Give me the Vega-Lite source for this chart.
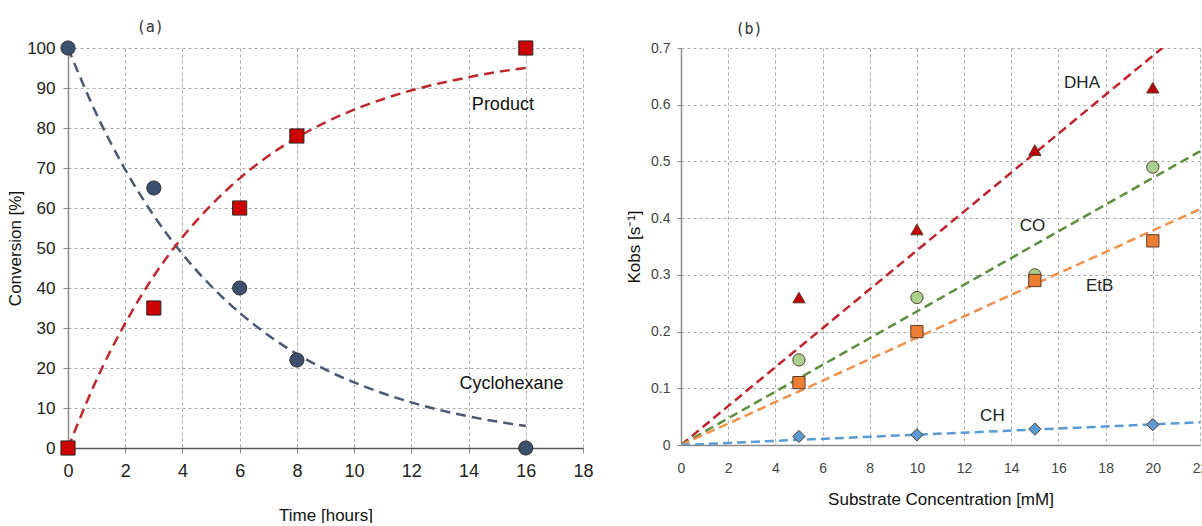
{
  "$schema": "https://vega.github.io/schema/vega-lite/v6.json",
  "background": "white",
  "padding": {"left": 6, "top": 19, "right": 0, "bottom": 0},
  "spacing": 31,
  "resolve": {"scale": {"fill": "independent", "shape": "independent", "color": "independent"}},
  "config": {
    "view": {"stroke": null},
    "font": "Liberation Sans",
    "axis": {
      "grid": true,
      "gridColor": "#aaaaaa",
      "gridDash": [3, 3],
      "gridWidth": 1,
      "domainColor": "#8a8a8a",
      "domainWidth": 1.5,
      "tickColor": "#8a8a8a",
      "tickSize": 5,
      "labelFlush": false,
      "labelOverlap": false,
      "labelFont": "Liberation Sans",
      "titleFont": "Liberation Sans",
      "titleFontWeight": "normal",
      "labelColor": "#222",
      "titleColor": "#111"
    }
  },
  "datasets": {
    "fitA": [
      {"t": 0, "v": 100, "s": "Cyclohexane"}, {"t": 1, "v": 83.4, "s": "Cyclohexane"}, {"t": 2, "v": 69.6, "s": "Cyclohexane"},
      {"t": 3, "v": 58.1, "s": "Cyclohexane"}, {"t": 4, "v": 48.5, "s": "Cyclohexane"}, {"t": 5, "v": 40.5, "s": "Cyclohexane"},
      {"t": 6, "v": 33.8, "s": "Cyclohexane"}, {"t": 7, "v": 28.2, "s": "Cyclohexane"}, {"t": 8, "v": 23.5, "s": "Cyclohexane"},
      {"t": 9, "v": 19.6, "s": "Cyclohexane"}, {"t": 10, "v": 16.4, "s": "Cyclohexane"}, {"t": 11, "v": 13.7, "s": "Cyclohexane"},
      {"t": 12, "v": 11.4, "s": "Cyclohexane"}, {"t": 13, "v": 9.5, "s": "Cyclohexane"}, {"t": 14, "v": 7.9, "s": "Cyclohexane"},
      {"t": 15, "v": 6.6, "s": "Cyclohexane"}, {"t": 16, "v": 5.5, "s": "Cyclohexane"},
      {"t": 0, "v": 0, "s": "Product"}, {"t": 1, "v": 17.1, "s": "Product"}, {"t": 2, "v": 31.2, "s": "Product"},
      {"t": 3, "v": 43.0, "s": "Product"}, {"t": 4, "v": 52.7, "s": "Product"}, {"t": 5, "v": 60.7, "s": "Product"},
      {"t": 6, "v": 67.4, "s": "Product"}, {"t": 7, "v": 73.0, "s": "Product"}, {"t": 8, "v": 77.6, "s": "Product"},
      {"t": 9, "v": 81.4, "s": "Product"}, {"t": 10, "v": 84.6, "s": "Product"}, {"t": 11, "v": 87.2, "s": "Product"},
      {"t": 12, "v": 89.4, "s": "Product"}, {"t": 13, "v": 91.2, "s": "Product"}, {"t": 14, "v": 92.7, "s": "Product"},
      {"t": 15, "v": 94.0, "s": "Product"}, {"t": 16, "v": 95.0, "s": "Product"}
    ],
    "ptsA": [
      {"t": 0, "v": 100, "s": "Cyclohexane"}, {"t": 3, "v": 65, "s": "Cyclohexane"}, {"t": 6, "v": 40, "s": "Cyclohexane"},
      {"t": 8, "v": 22, "s": "Cyclohexane"}, {"t": 16, "v": 0, "s": "Cyclohexane"},
      {"t": 0, "v": 0, "s": "Product"}, {"t": 3, "v": 35, "s": "Product"}, {"t": 6, "v": 60, "s": "Product"},
      {"t": 8, "v": 78, "s": "Product"}, {"t": 16, "v": 100, "s": "Product"}
    ],
    "lblA": [
      {"t": 15.2, "v": 85.8, "label": "Product"},
      {"t": 15.5, "v": 16, "label": "Cyclohexane"}
    ],
    "fitB": [
      {"c": 0, "k": 0, "s": "DHA"}, {"c": 20.4, "k": 0.7, "s": "DHA"},
      {"c": 0, "k": 0, "s": "CO"}, {"c": 22, "k": 0.518, "s": "CO"},
      {"c": 0, "k": 0, "s": "EtB"}, {"c": 22, "k": 0.416, "s": "EtB"},
      {"c": 0, "k": 0, "s": "CH"}, {"c": 22, "k": 0.04, "s": "CH"}
    ],
    "ptsB": [
      {"c": 5, "k": 0.26, "s": "DHA"}, {"c": 10, "k": 0.38, "s": "DHA"}, {"c": 15, "k": 0.52, "s": "DHA"}, {"c": 20, "k": 0.63, "s": "DHA"},
      {"c": 5, "k": 0.15, "s": "CO"}, {"c": 10, "k": 0.26, "s": "CO"}, {"c": 15, "k": 0.30, "s": "CO"}, {"c": 20, "k": 0.49, "s": "CO"},
      {"c": 5, "k": 0.11, "s": "EtB"}, {"c": 10, "k": 0.20, "s": "EtB"}, {"c": 15, "k": 0.29, "s": "EtB"}, {"c": 20, "k": 0.36, "s": "EtB"},
      {"c": 5, "k": 0.015, "s": "CH"}, {"c": 10, "k": 0.018, "s": "CH"}, {"c": 15, "k": 0.028, "s": "CH"}, {"c": 20, "k": 0.036, "s": "CH"}
    ],
    "lblB": [
      {"c": 17.0, "k": 0.638, "label": "DHA"},
      {"c": 14.9, "k": 0.386, "label": "CO"},
      {"c": 17.75, "k": 0.28, "label": "EtB"},
      {"c": 13.2, "k": 0.051, "label": "CH"}
    ]
  },
  "hconcat": [
    {
      "width": 515,
      "height": 400,
      "title": {"text": "(a)", "anchor": "start", "dx": 130, "offset": 4, "font": "DejaVu Sans Mono", "fontSize": 15, "fontWeight": "normal", "color": "#333"},
      "encoding": {
        "x": {"field": "t", "type": "quantitative", "scale": {"domain": [0, 18], "nice": false},
              "axis": {"values": [0, 2, 4, 6, 8, 10, 12, 14, 16, 18], "title": "Time [hours]", "labelFontSize": 18, "titleFontSize": 17, "labelPadding": 9, "titlePadding": 27, "domainColor": "#555", "labelOverlap": false, "labelFlush": false}},
        "y": {"field": "v", "type": "quantitative", "scale": {"domain": [0, 100], "nice": false},
              "axis": {"values": [0, 10, 20, 30, 40, 50, 60, 70, 80, 90, 100], "tickCount": 11, "title": "Conversion [%]", "labelFontSize": 17, "titleFontSize": 17, "labelPadding": 8, "titlePadding": 2, "labelOverlap": false, "labelSeparation": 0, "labelBound": false, "labelFlush": false}}
      },
      "layer": [
        {
          "data": {"name": "fitA"},
          "mark": {"type": "line", "strokeDash": [10, 6], "strokeWidth": 2.5, "interpolate": "monotone"},
          "encoding": {
            "color": {"field": "s", "type": "nominal", "scale": {"domain": ["Cyclohexane", "Product"], "range": ["#4a5874", "#c0272d"]}, "legend": null},
            "detail": {"field": "s"}
          }
        },
        {
          "data": {"name": "ptsA"},
          "mark": {"type": "point", "filled": true, "size": 200, "stroke": "#2a2a2a", "strokeWidth": 1, "opacity": 1},
          "encoding": {
            "fill": {"field": "s", "type": "nominal", "scale": {"domain": ["Cyclohexane", "Product"], "range": ["#3d4f6e", "#cc0000"]}, "legend": null},
            "shape": {"field": "s", "type": "nominal", "scale": {"domain": ["Cyclohexane", "Product"], "range": ["circle", "square"]}, "legend": null}
          }
        },
        {
          "data": {"name": "lblA"},
          "mark": {"type": "text", "font": "Liberation Sans", "fontSize": 18, "color": "#111"},
          "encoding": {
            "text": {"field": "label"}
          }
        }
      ],
      "resolve": {"scale": {"color": "independent"}}
    },
    {
      "width": 519,
      "height": 397,
      "title": {"text": "(b)", "anchor": "start", "dx": 110, "offset": 4, "font": "DejaVu Sans Mono", "fontSize": 15, "fontWeight": "normal", "color": "#333"},
      "encoding": {
        "x": {"field": "c", "type": "quantitative", "scale": {"domain": [0, 22], "nice": false},
              "axis": {"values": [0, 2, 4, 6, 8, 10, 12, 14, 16, 18, 20, 22], "title": "Substrate Concentration [mM]", "labelFontSize": 14, "titleFontSize": 17, "labelColor": "#444", "labelPadding": 16, "titlePadding": 16, "tickSize": 0, "labelOverlap": false, "labelFlush": false}},
        "y": {"field": "k", "type": "quantitative", "scale": {"domain": [0, 0.7], "nice": false},
              "axis": {"values": [0, 0.1, 0.2, 0.3, 0.4, 0.5, 0.6, 0.7], "format": "~g", "title": "Kobs [s⁻¹]", "labelFontSize": 14, "titleFontSize": 17, "labelColor": "#444", "labelPadding": 7, "titlePadding": 7, "tickSize": 4, "labelOverlap": false, "labelFlush": false}}
      },
      "layer": [
        {
          "data": {"name": "fitB"},
          "mark": {"type": "line", "strokeDash": [9, 5], "strokeWidth": 2.5, "clip": true},
          "encoding": {
            "color": {"field": "s", "type": "nominal", "scale": {"domain": ["DHA", "CO", "EtB", "CH"], "range": ["#c0232b", "#5b8f3c", "#f0904c", "#5b9bd5"]}, "legend": null},
            "detail": {"field": "s"}
          }
        },
        {
          "data": {"name": "ptsB"},
          "mark": {"type": "point", "filled": true, "size": 150, "stroke": "#5a3a2a", "strokeWidth": 1, "opacity": 1},
          "encoding": {
            "fill": {"field": "s", "type": "nominal", "scale": {"domain": ["DHA", "CO", "EtB", "CH"], "range": ["#c00000", "#a9d18e", "#ed7d31", "#5b9bd5"]}, "legend": null},
            "shape": {"field": "s", "type": "nominal", "scale": {"domain": ["DHA", "CO", "EtB", "CH"], "range": ["triangle-up", "circle", "square", "diamond"]}, "legend": null}
          }
        },
        {
          "data": {"name": "lblB"},
          "mark": {"type": "text", "font": "Liberation Sans", "fontSize": 17, "color": "#222"},
          "encoding": {
            "text": {"field": "label"}
          }
        }
      ],
      "resolve": {"scale": {"color": "independent"}}
    }
  ]
}
